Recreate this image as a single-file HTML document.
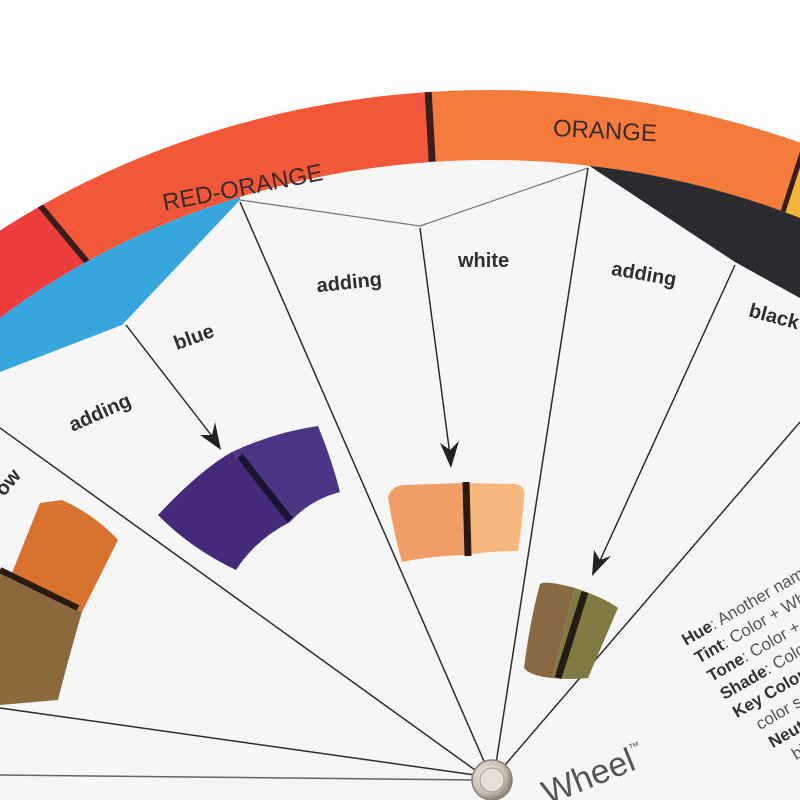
<!DOCTYPE html>
<html><head><meta charset="utf-8"><style>
html,body{margin:0;padding:0;background:#fff;width:800px;height:800px;overflow:hidden;}
svg{display:block;}
text{font-family:"Liberation Sans",sans-serif;}
</style></head><body>
<svg width="800" height="800" viewBox="0 0 800 800" xmlns="http://www.w3.org/2000/svg">
<defs>
<clipPath id="outer"><ellipse cx="490" cy="780" rx="810" ry="690"/></clipPath>
<clipPath id="inner"><ellipse cx="490" cy="780" rx="735" ry="620"/></clipPath>
<radialGradient id="knob" cx="0.4" cy="0.4" r="0.6"><stop offset="0" stop-color="#f4f0ea"/><stop offset="0.7" stop-color="#c9c0b4"/><stop offset="1" stop-color="#8f877c"/></radialGradient>
</defs>
<rect width="800" height="800" fill="#fefefe"/>
<g clip-path="url(#outer)">
  <polygon points="-131,0 352,580 0,800 -300,800 -300,0" fill="#ee3d3c"/>
  <polygon points="-131,0 423,0 440,300 352,580" fill="#f3573a"/>
  <polygon points="423,0 800,0 800,300 440,300" fill="#f57b3c"/>
  <polygon points="800,150 782,215 830,240" fill="#f3b43a"/>
  <line x1="-131" y1="0" x2="352" y2="580" stroke="#3a1e1e" stroke-width="6"/>
  <line x1="423" y1="0" x2="440" y2="300" stroke="#3a1e1e" stroke-width="7"/>
  <line x1="803" y1="150" x2="782" y2="215" stroke="#3a1e1e" stroke-width="5"/>
</g>
<ellipse cx="490" cy="780" rx="735" ry="620" fill="#f7f6f6"/>
<g clip-path="url(#inner)">
  <polygon points="0,372 122,325 240,200 240,100 0,100" fill="#36a6dc"/>
  <polygon points="588,165 735,262 800,298 800,100 588,100" fill="#2b2a2e"/>
  <polyline points="240,200 420,226 588,168" fill="none" stroke="#777" stroke-width="1.2"/>
</g>
<g stroke="#2c2c2c" stroke-width="1.5" fill="none">
  <line x1="490" y1="775" x2="240" y2="202"/>
  <line x1="495" y1="770" x2="588" y2="168"/>
  <line x1="505" y1="765" x2="800" y2="422"/>
  <line x1="475" y1="770" x2="0" y2="428"/>
  <line x1="475" y1="775" x2="0" y2="708"/>
  <line x1="475" y1="780" x2="0" y2="775" stroke="#666"/>
</g>
<g stroke="#222" stroke-width="1.4" fill="#222">
  <line x1="126" y1="325" x2="215" y2="440"/>
  <polygon points="221,450 200,435 212,435 215,422" stroke="none"/>
  <line x1="420" y1="228" x2="450" y2="455"/>
  <polygon points="451,468 440,443 450,450 459,441" stroke="none"/>
  <line x1="735" y1="265" x2="598" y2="565"/>
  <polygon points="592,576 594,550 600,560 611,556" stroke="none"/>
</g>
<path d="M158,515 Q200,470 232,452 L290,522 Q255,540 236,570 Q190,548 158,515 Z" fill="#45297a"/>
<path d="M232,452 Q275,432 318,426 Q332,460 340,492 Q310,500 290,522 Z" fill="#4d3585"/>
<line x1="240" y1="456" x2="290" y2="520" stroke="#1a1530" stroke-width="7"/>
<path d="M388,497 Q392,485 405,485 L463,483 L465,555 Q430,556 402,562 Q393,530 388,497 Z" fill="#f09e68"/>
<path d="M463,483 L515,484 Q526,486 524,498 Q522,525 518,551 Q490,551 465,555 Z" fill="#f6b87c"/>
<line x1="466" y1="482" x2="468" y2="556" stroke="#2a1a12" stroke-width="7"/>
<path d="M540,584 Q545,580 575,588 L552,678 Q530,676 524,668 Q530,620 540,584 Z" fill="#8a6a45"/>
<path d="M575,588 Q605,598 618,608 Q600,650 588,678 Q570,680 552,678 Z" fill="#807a42"/>
<line x1="585" y1="592" x2="558" y2="678" stroke="#231c14" stroke-width="7"/>
<path d="M40,503 L62,500 Q95,515 118,540 L82,612 L10,578 Z" fill="#d8722f"/>
<path d="M10,578 L82,612 Q68,660 58,700 L0,705 L0,570 Z" fill="#8a6a3c"/>
<line x1="0" y1="570" x2="78" y2="608" stroke="#2a1a12" stroke-width="6"/>
<g fill="#3a2a28" font-size="24">
  <text x="160" y="194" transform="rotate(-11 250 180)">RED-ORANGE</text>
  <text x="553" y="139" font-size="24" transform="rotate(3 612 130)">ORANGE</text>
</g>
<g fill="#2f2f2f" font-size="20" font-weight="bold">
  <text x="62" y="418" transform="rotate(-24 100 400)">adding</text>
  <text x="172" y="343" transform="rotate(-20 195 333)">blue</text>
  <text x="316" y="288" transform="rotate(-6 357 278)">adding</text>
  <text x="458" y="267">white</text>
  <text x="610" y="282" transform="rotate(10 652 282)">adding</text>
  <text x="748" y="322" transform="rotate(15 770 318)">black</text>
  <text x="-5" y="492" transform="rotate(-50 5 485)">ow</text>
</g>
<g font-size="17" fill="#555" transform="translate(686,646) rotate(-30)">
  <text x="0" y="0"><tspan font-weight="bold" fill="#333">Hue</tspan>: Another name</text>
  <text x="2" y="22"><tspan font-weight="bold" fill="#333">Tint</tspan>: Color + White</text>
  <text x="4" y="44"><tspan font-weight="bold" fill="#333">Tone</tspan>: Color + Gray</text>
  <text x="6" y="66"><tspan font-weight="bold" fill="#333">Shade</tspan>: Color + Black</text>
  <text x="8" y="88" font-weight="bold" fill="#333">Key Color</text>
  <text x="22" y="110">color scheme</text>
  <text x="24" y="132" font-weight="bold" fill="#333">Neutral</text>
  <text x="38" y="154">black</text>
  <text x="40" y="176">In</text>
</g>
<g fill="#555" transform="translate(548,805) rotate(-22)">
  <text x="0" y="0" font-size="34" font-family="Liberation Serif">Wheel<tspan font-size="11" dy="-18">™</tspan></text>
</g>
<circle cx="492" cy="780" r="20" fill="url(#knob)" stroke="#8a8176" stroke-width="1.5"/>
<circle cx="492" cy="780" r="12" fill="#e6e0d6" stroke="#a49a8e"/>
</svg>
</body></html>
